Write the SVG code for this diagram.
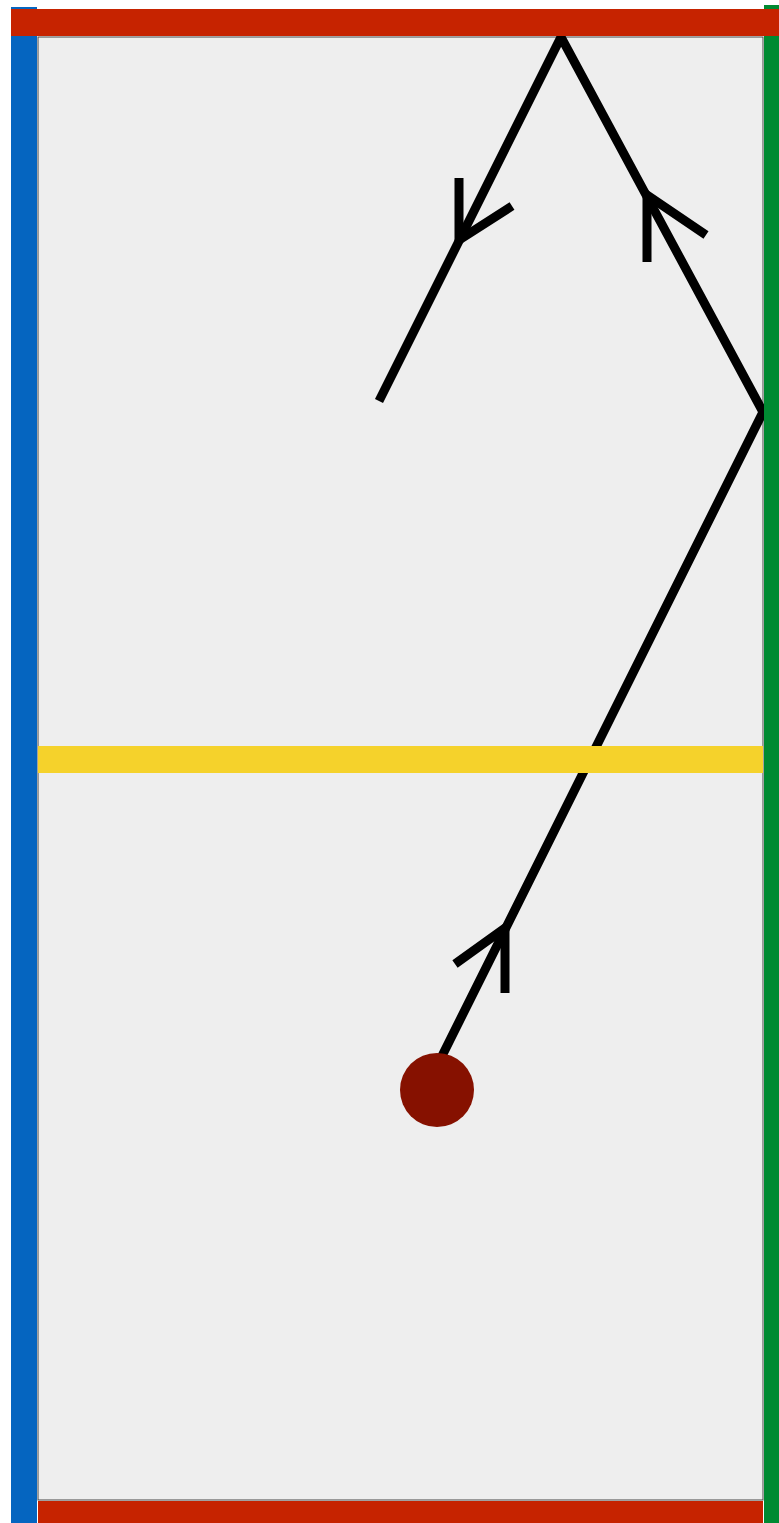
<svg xmlns="http://www.w3.org/2000/svg" width="779" height="1523" viewBox="0 0 779 1523">
<style>
.ray{fill:none;stroke:#000;stroke-width:9;stroke-linejoin:miter;stroke-linecap:butt}
.head{fill:none;stroke:#000;stroke-width:9;stroke-linecap:butt;stroke-linejoin:miter}
</style>
<rect width="779" height="1523" fill="#ffffff"/>
<g id="table">
<rect x="38" y="37" width="725" height="1463" fill="#eeeeee" stroke="#444444" stroke-width="1"/>
</g>
<g id="connectors">
<polyline class="ray" points="441,1058 763,412 561,37 379,401"/>
<polyline class="head" points="459,178 459,240 512,206"/>
<polyline class="head" points="647,262 647,195 706,235"/>
<polyline class="head" points="505,993 505,928 455,964"/>
</g>
<g id="yellow-line"><rect x="38" y="746" width="725" height="27" fill="#f5d22b"/></g>
<g id="left-cushion"><rect x="11" y="7" width="26" height="1516" fill="#0565c0"/></g>
<g id="right-cushion"><rect x="764" y="5" width="15" height="1518" fill="#008a32"/></g>
<g id="top-cushion"><rect x="11" y="9" width="768" height="27" fill="#c62300"/></g>
<g id="bottom-cushion"><rect x="38" y="1501" width="725" height="22" fill="#c62300"/></g>
<g id="ball"><circle cx="437" cy="1090" r="37" fill="#861100"/></g>
</svg>
